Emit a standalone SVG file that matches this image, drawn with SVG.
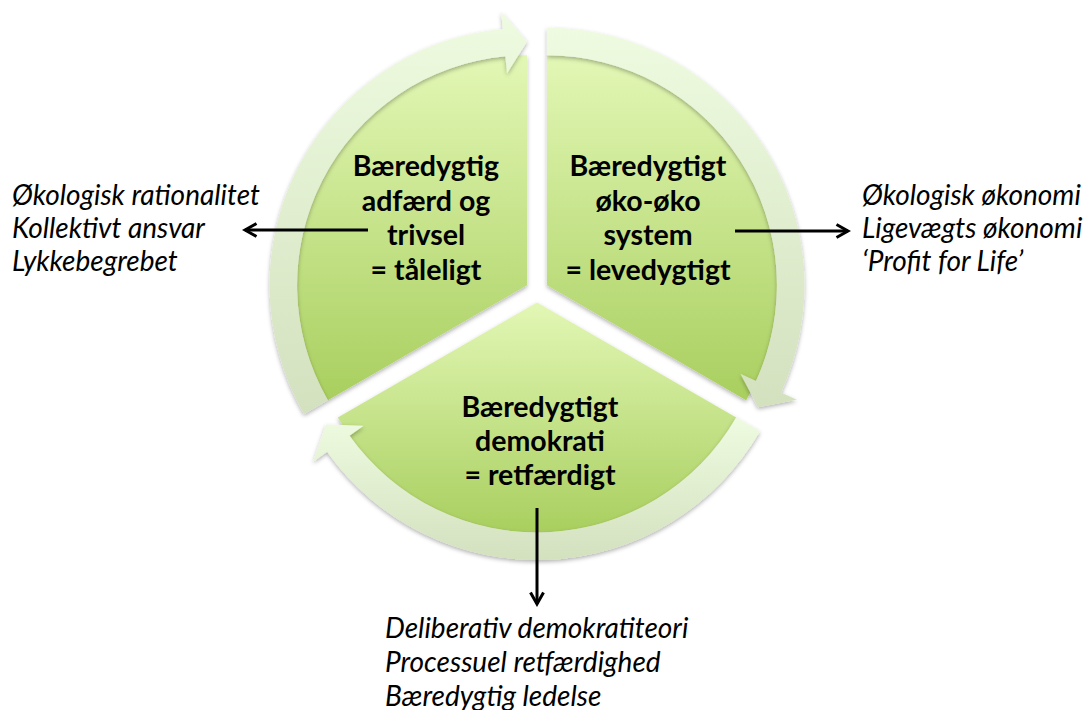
<svg xmlns="http://www.w3.org/2000/svg" width="1087" height="710" viewBox="0 0 1087 710">
<defs>
<linearGradient id="pieGrad" x1="0" y1="0" x2="0" y2="1">
<stop offset="0" stop-color="#e2f7b5"/>
<stop offset="1" stop-color="#a9cf5f"/>
</linearGradient>
<linearGradient id="ringGrad" x1="0" y1="0" x2="0" y2="1">
<stop offset="0" stop-color="#eefbe0"/>
<stop offset="1" stop-color="#d3e1bf"/>
</linearGradient>
<filter id="shadow" x="-10%" y="-10%" width="120%" height="120%">
<feDropShadow dx="0" dy="2" stdDeviation="2" flood-color="#000" flood-opacity="0.3"/>
</filter>
<marker id="arrow" viewBox="0 0 16 16" refX="13" refY="8" markerWidth="16" markerHeight="16" markerUnits="userSpaceOnUse" orient="auto">
<path d="M1.5,1.5 L13,8 L1.5,14.5" fill="none" stroke="#000" stroke-width="3"/>
</marker>
</defs>
<style>
.pie{fill:url(#pieGrad);filter:url(#shadow);}
.ring{fill:url(#ringGrad);filter:url(#shadow);}
.lbl{font-family:Lato,"Liberation Sans",sans-serif;font-weight:bold;font-size:28.5px;fill:#000;text-anchor:middle;}
.side{font-family:Lato,"Liberation Sans",sans-serif;font-style:italic;font-size:28px;fill:#000;}
.conn{stroke:#000;stroke-width:3;fill:none;marker-end:url(#arrow);}
</style>
<rect width="1087" height="710" fill="#fff"/>

<g id="node-adfaerd">
<path class="pie" d="M527.04,285.25 L327.86,400.25 A230,230 0 0 1 527.04,55.25 Z"/>
<path class="ring" d="M304.04,414 A257.5,257.5 0 0 1 502.81,28.89 L501.19,11.72 L527.04,41.5 L507.02,73.44 L505.4,56.27 A230,230 0 0 0 327.86,400.25 Z"/>
<text class="lbl"><tspan x="426" y="176">Bæredygtig</tspan><tspan x="426" y="211">adfærd og</tspan><tspan x="426" y="245">trivsel</tspan><tspan x="426" y="280">= tåleligt</tspan></text>
</g>

<g id="node-oekooeko">
<path class="pie" d="M546.96,285.25 L546.96,55.25 A230,230 0 0 1 746.14,400.25 Z"/>
<path class="ring" d="M546.96,27.75 A257.5,257.5 0 0 1 781.08,392.45 L796.76,399.63 L758.05,407.13 L740.39,373.82 L756.08,381 A230,230 0 0 0 546.96,55.25 Z"/>
<text class="lbl"><tspan x="648" y="176">Bæredygtigt</tspan><tspan x="648" y="211">øko-øko</tspan><tspan x="648" y="245">system</tspan><tspan x="648" y="280">= levedygtigt</tspan></text>
</g>

<g id="node-demokrati">
<path class="pie" d="M537,302.5 L736.18,417.5 A230,230 0 0 1 337.82,417.5 Z"/>
<path class="ring" d="M760,431.25 A257.5,257.5 0 0 1 327.11,451.67 L313.05,461.66 L325.91,424.38 L363.59,425.75 L349.53,435.74 A230,230 0 0 0 736.18,417.5 Z"/>
<text class="lbl"><tspan x="540" y="417">Bæredygtigt</tspan><tspan x="540" y="451">demokrati</tspan><tspan x="540" y="485">= retfærdigt</tspan></text>
</g>

<g id="node-left-text">
<text class="side"><tspan x="12" y="205">Økologisk rationalitet</tspan><tspan x="12" y="238">Kollektivt ansvar</tspan><tspan x="12" y="271">Lykkebegrebet</tspan></text>
</g>
<g id="node-right-text">
<text class="side"><tspan x="862" y="205">Økologisk økonomi</tspan><tspan x="862" y="238">Ligevægts økonomi</tspan><tspan x="862" y="271">‘Profit for Life’</tspan></text>
</g>
<g id="node-bottom-text">
<text class="side"><tspan x="385" y="638">Deliberativ demokratiteori</tspan><tspan x="385" y="672">Processuel retfærdighed</tspan><tspan x="385" y="706">Bæredygtig ledelse</tspan></text>
</g>

<g id="connectors">
<line class="conn" x1="368" y1="230" x2="245" y2="230"/>
<line class="conn" x1="735" y1="231" x2="848" y2="231"/>
<line class="conn" x1="537" y1="508" x2="537" y2="604"/>
</g>
</svg>
